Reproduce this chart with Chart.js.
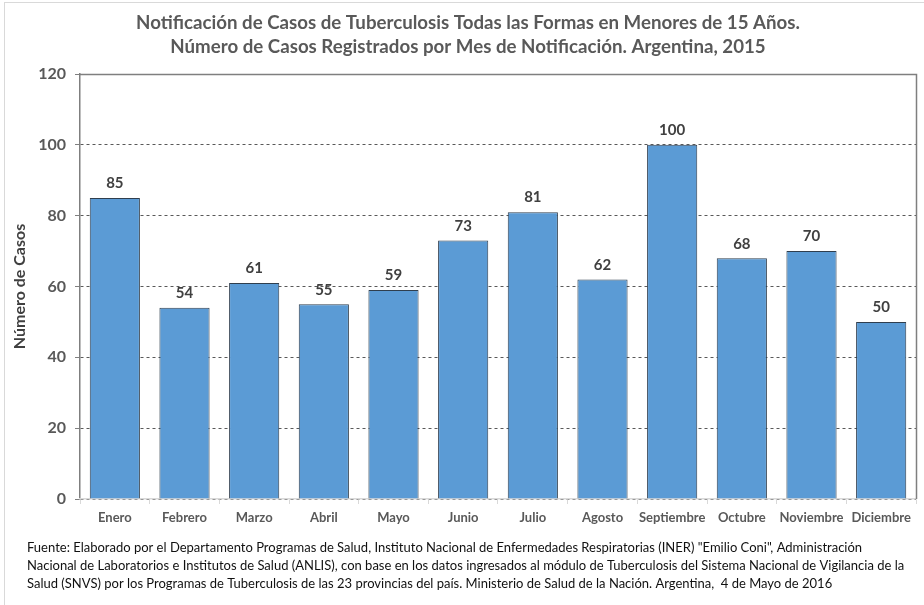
<!DOCTYPE html>
<html>
<head>
<meta charset="utf-8">
<script src="https://cdn.jsdelivr.net/npm/chart.js@4.4.0/dist/chart.umd.min.js"></script>
<style>
  html, body { margin: 0; padding: 0; background: #fff; }
  #wrap { position: relative; width: 924px; height: 605px; }
</style>
</head>
<body>
<div id="wrap"><canvas id="tbGraph" width="924" height="605"></canvas></div>
<script>
const months = ['Enero', 'Febrero', 'Marzo', 'Abril', 'Mayo', 'Junio', 'Julio', 'Agosto', 'Septiembre', 'Octubre', 'Noviembre', 'Diciembre'];
const cases = [85, 54, 61, 55, 59, 73, 81, 62, 100, 68, 70, 50];
const yTicks = [0, 20, 40, 60, 80, 100, 120];

const titleLines = [
  'Notificación de Casos de Tuberculosis Todas las Formas en Menores de 15 Años.',
  'Número de Casos Registrados por Mes de Notificación. Argentina, 2015'
];
const footerLines = [
  'Fuente: Elaborado por el Departamento Programas de Salud, Instituto Nacional de Enfermedades Respiratorias (INER) "Emilio Coni", Administración',
  'Nacional de Laboratorios e Institutos de Salud (ANLIS), con base en los datos ingresados al módulo de Tuberculosis del Sistema Nacional de Vigilancia de la',
  'Salud (SNVS) por los Programas de Tuberculosis de las 23 provincias del país. Ministerio de Salud de la Nación. Argentina,  4 de Mayo de 2016'
];

const FONT = 'Lato, "Open Sans", sans-serif';

// numbers on top of bars + plot frame + title + source text
const extras = {
  id: 'extras',
  afterDatasetsDraw(chart) {
    const ctx = chart.ctx;
    const meta = chart.getDatasetMeta(0);
    ctx.save();
    ctx.font = 'bold 15px ' + FONT;
    ctx.fillStyle = '#404040';
    ctx.textAlign = 'center';
    ctx.textBaseline = 'bottom';
    meta.data.forEach((bar, i) => {
      ctx.fillText(cases[i], bar.x, bar.y - 7);
    });
    ctx.restore();
  },
  afterDraw(chart) {
    const ctx = chart.ctx;
    const a = chart.chartArea;
    ctx.save();
    // top + right edge of plot
    ctx.strokeStyle = '#7f7f7f';
    ctx.lineWidth = 1.5;
    ctx.beginPath();
    ctx.moveTo(a.left, a.top + 0.5);
    ctx.lineTo(a.right + 0.5, a.top + 0.5);
    ctx.lineTo(a.right + 0.5, a.bottom);
    ctx.stroke();
    // outer frame
    ctx.strokeStyle = '#d9d9d9';
    ctx.lineWidth = 1;
    ctx.strokeRect(4.5, 2.5, 1000, 1000);
    // title
    ctx.font = 'bold 18.7px ' + FONT;
    ctx.fillStyle = '#595959';
    ctx.textAlign = 'center';
    ctx.textBaseline = 'middle';
    titleLines.forEach((line, i) => {
      ctx.fillText(line, 468, 23 + i * 24);
    });
    // source text
    ctx.font = '13px ' + FONT;
    ctx.fillStyle = '#111';
    ctx.textAlign = 'left';
    footerLines.forEach((line, i) => {
      ctx.fillText(line, 27, 548 + i * 18);
    });
    ctx.restore();
  }
};

new Chart(document.getElementById('tbGraph').getContext('2d'), {
  type: 'bar',
  data: {
    labels: months,
    datasets: [{
      data: cases,
      backgroundColor: '#5b9bd5',
      borderColor: '#2f3e4e',
      borderWidth: 1,
      borderSkipped: 'bottom',
      barPercentage: 0.72,
      categoryPercentage: 1
    }]
  },
  options: {
    responsive: false,
    animation: false,
    layout: { padding: { left: 0, right: 8, top: 74, bottom: 76 } },
    plugins: {
      legend: { display: false },
      tooltip: { enabled: false },
      title: { display: false }
    },
    scales: {
      y: {
        min: 0,
        max: 120,
        afterBuildTicks(scale) { scale.ticks = yTicks.map(v => ({ value: v })); },
        afterFit(scale) { scale.width = 80; },
        ticks: {
          color: '#595959',
          padding: 9,
          font: { family: FONT, size: 16, weight: 'bold' }
        },
        grid: {
          color: '#595959',
          lineWidth: 1,
          drawTicks: true,
          tickLength: 5,
          tickColor: '#7f7f7f',
          tickBorderDash: []
        },
        border: { display: true, color: '#7f7f7f', width: 1.5, dash: [3, 3] },
        title: {
          display: true,
          text: 'Número de Casos',
          color: '#404040',
          font: { family: FONT, size: 16, weight: 'bold' },
          padding: { top: 10, bottom: 0 }
        }
      },
      x: {
        afterFit(scale) { scale.height = 30; },
        ticks: {
          color: '#595959',
          padding: 6,
          maxRotation: 0,
          autoSkip: false,
          font: { family: FONT, size: 13, weight: 'bold' }
        },
        grid: {
          offset: true,
          drawOnChartArea: false,
          drawTicks: true,
          tickLength: 5,
          color: '#d9d9d9'
        },
        border: { display: true, color: '#d9d9d9', width: 1.5 }
      }
    }
  },
  plugins: [extras]
});
</script>
</body>
</html>
